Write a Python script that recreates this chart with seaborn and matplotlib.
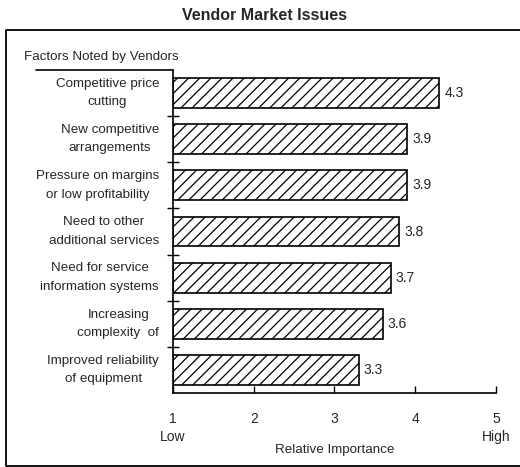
import matplotlib
matplotlib.use("Agg")
import matplotlib.pyplot as plt
import seaborn as sns
import pandas as pd
from matplotlib.lines import Line2D

# data
factors = [
    "Competitive price\ncutting",
    "New competitive\narrangements",
    "Pressure on margins\nor low profitability",
    "Need to other\nadditional services",
    "Need for service\ninformation systems",
    "Increasing\ncomplexity  of",
    "Improved reliability\nof equipment",
]
importance = [4.3, 3.9, 3.9, 3.8, 3.7, 3.6, 3.3]
x_ticks = [1, 2, 3, 4, 5]
x_ticklabels = ["1\nLow", "2", "3", "4", "5\nHigh"]

df = pd.DataFrame({"factor": factors, "importance": importance})

sns.set_style("white")
plt.rcParams["font.family"] = ["Liberation Sans", "DejaVu Sans"]
plt.rcParams["hatch.linewidth"] = 0.9

fs = 9.6

fig = plt.figure(figsize=(5.2, 4.67), dpi=100)
ax = fig.add_axes([173 / 520, 1 - 393 / 467, 323 / 520, 323 / 467])

# bars start at 1 (Low), so draw the distance from 1 on a shifted scale
sns.barplot(data=df, y="factor", x="importance", orient="h", ax=ax,
            color="white", edgecolor="black", linewidth=1.2, width=0.65,
            hatch="///")
for p, v in zip(ax.patches, importance):
    p.set_x(1)
    p.set_width(v - 1)
    p.set_facecolor("white")
    ax.text(v + 0.06, p.get_y() + p.get_height() / 2, f"{v:.1f}",
            va="center", ha="left", fontsize=fs + 0.4)

ax.set_xlim(1, 5)
ax.set_ylim(6.5, -0.5)

ax.set_xticks(x_ticks)
ax.set_xticklabels(x_ticklabels, fontsize=fs + 0.4, linespacing=1.35)
ax.tick_params(axis="x", bottom=True, direction="in", length=5, width=1,
               pad=14, color="black")
ax.set_xlabel("Relative Importance", fontsize=fs, labelpad=0)

ax.set_yticks(range(len(factors)))
ax.set_yticklabels(factors, fontsize=fs, multialignment="center")
for t in ax.get_yticklabels():
    t.set_verticalalignment("center")
    t.set_linespacing(1.7)
ax.tick_params(axis="y", length=0, pad=10)
ax.set_yticks([i + 0.5 for i in range(len(factors) - 1)], minor=True)
ax.tick_params(axis="y", which="minor", left=True, direction="inout",
               length=8, width=1, color="black")
ax.set_ylabel("")

for s in ["top", "right"]:
    ax.spines[s].set_visible(False)
for s in ["left", "bottom"]:
    ax.spines[s].set_color("black")
    ax.spines[s].set_linewidth(1.2)

# title, header and outer frame
fig.text(265 / 520, 1 - 16 / 467, "Vendor Market Issues", ha="center", va="center",
         fontsize=11.5, fontweight="bold")
fig.text(24 / 520, 1 - 60 / 467, "Factors Noted by Vendors", ha="left", va="baseline",
         fontsize=fs)
fig.add_artist(Line2D([36 / 520, 173 / 520], [1 - 69.5 / 467, 1 - 69.5 / 467],
                      color="black", lw=1.2))
fig.add_artist(Line2D([1.0, 5.5 / 520, 5.5 / 520, 1.0],
                      [1 - 30 / 467, 1 - 30 / 467, 1 - 465.5 / 467, 1 - 465.5 / 467],
                      color="black", lw=1.3))

fig.savefig("out.png", dpi=100)
